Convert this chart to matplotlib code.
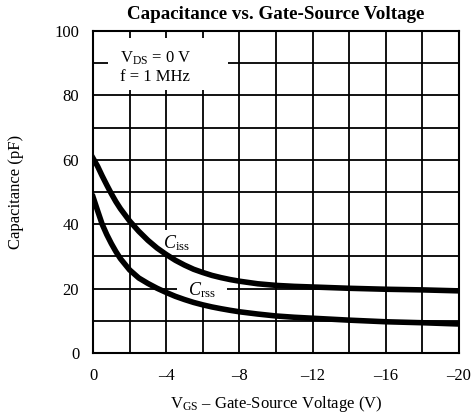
"""Capacitance vs. gate-source voltage (datasheet-style curve chart)."""

import matplotlib

matplotlib.use("Agg")
import matplotlib.pyplot as plt
from matplotlib.patches import Rectangle

# values
vgs = [0, -0.25, -0.5, -0.75, -1, -1.25, -1.5, -2, -2.5, -3, -3.5, -4, -4.5, -5,
       -5.5, -6, -6.5, -7, -7.5, -8, -9, -10, -11, -12, -14, -16, -18, -20]
ciss = [60.5, 58.0, 55.0, 52.2, 49.5, 47.0, 44.8, 41.0, 37.8, 35.0, 32.6, 30.6, 28.8, 27.3,
        26.0, 25.0, 24.1, 23.4, 22.8, 22.3, 21.5, 21.0, 20.7, 20.5, 20.1, 19.8, 19.6, 19.3]
crss = [48.5, 44.2, 40.0, 36.8, 34.0, 31.5, 29.3, 25.8, 23.3, 21.6, 20.1, 18.8, 17.6, 16.6,
        15.7, 14.95, 14.3, 13.75, 13.25, 12.8, 12.1, 11.5, 11.1, 10.8, 10.2, 9.7, 9.4, 9.0]

x_ticks = [0, -4, -8, -12, -16, -20]
x_ticklabels = ["0", "\u20134", "\u20138", "\u201312", "\u201316", "\u201320"]
y_ticks = [0, 20, 40, 60, 80, 100]

plt.rcParams["font.family"] = ["Liberation Serif", "DejaVu Serif"]
plt.rcParams["mathtext.fontset"] = "custom"
plt.rcParams["mathtext.rm"] = "Liberation Serif"
plt.rcParams["mathtext.it"] = "Liberation Serif:italic"

fig = plt.figure(figsize=(4.71, 4.17), dpi=100)
ax = fig.add_axes([0.1975, 0.1535, 0.777, 0.772])

ax.set_xlim(0, -20)
ax.set_ylim(0, 100)
grid_x = list(range(0, -21, -2))
grid_y = list(range(0, 101, 10))
ax.set_xticks(grid_x)
ax.set_yticks(grid_y)
ax.set_xticklabels([x_ticklabels[x_ticks.index(t)] if t in x_ticks else "" for t in grid_x])
ax.set_yticklabels([str(t) if t in y_ticks else "" for t in grid_y])
ax.grid(True, color="black", lw=1.3)
ax.tick_params(length=0, labelsize=12)
ax.tick_params(axis="x", pad=11)
ax.tick_params(axis="y", pad=10)
for s in ax.spines.values():
    s.set_linewidth(1.5)
    s.set_zorder(6)

# white masks that break the grid behind the annotations
for x0, y0, w, h in [(-0.82, 81.6, -6.56, 16.2), (-3.66, 30.7, -1.8, 7.5), (-4.6, 15.5, -2.7, 9.7)]:
    ax.add_patch(Rectangle((x0, y0), w, h, facecolor="white", edgecolor="none", zorder=2))

ax.plot(vgs, ciss, color="black", lw=4, solid_joinstyle="round", zorder=4)
ax.plot(vgs, crss, color="black", lw=4, solid_joinstyle="round", zorder=4)

ax.text(-3.8, 34.2, r"$\mathit{C}_{\mathrm{iss}}$", fontsize=13, ha="left", va="center", zorder=5)
ax.text(-5.2, 19.6, r"$\mathit{C}_{\mathrm{rss}}$", fontsize=13, ha="left", va="center", zorder=5)
ax.text(-1.45, 88.8, r"V$_{\mathrm{DS}}$ = 0 V" "\n" "f = 1 MHz", fontsize=12, ha="left", va="center",
        linespacing=1.15, zorder=5)

ax.set_title("Capacitance vs. Gate-Source Voltage", fontsize=13.7, fontweight="bold", pad=9)
ax.set_ylabel("Capacitance (pF)", fontsize=12, labelpad=22)
ax.set_xlabel("V$_{\\mathrm{GS}}$ \u2013 Gate-Source Voltage (V)", fontsize=12, labelpad=7)

fig.savefig("out.png", dpi=100)
